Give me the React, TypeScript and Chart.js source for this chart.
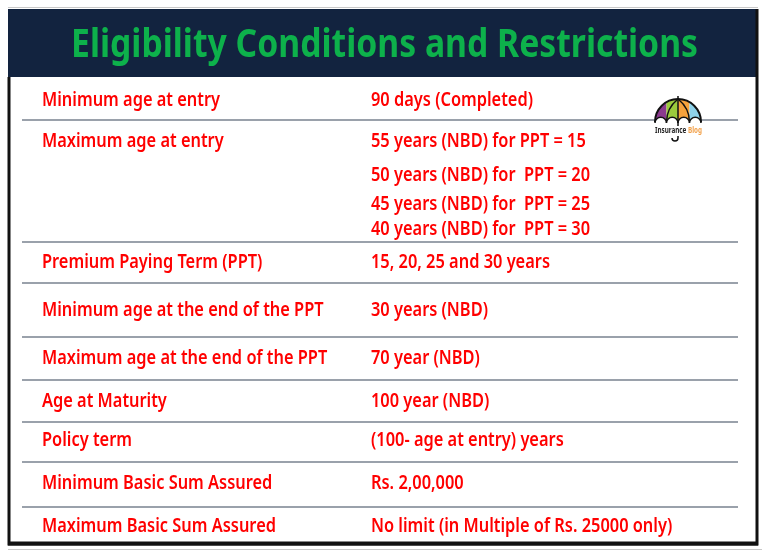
import { useEffect, useRef } from "react";
import { Chart, registerables } from "chart.js";
Chart.register(...registerables);

const title = "Eligibility Conditions and Restrictions";

const criteria = [
  "Minimum age at entry",
  "Maximum age at entry",
  "Premium Paying Term (PPT)",
  "Minimum age at the end of the PPT",
  "Maximum age at the end of the PPT",
  "Age at Maturity",
  "Policy term",
  "Minimum Basic Sum Assured",
  "Maximum Basic Sum Assured",
];

const conditions: string[][] = [
  ["90 days (Completed)"],
  [
    "55 years (NBD) for PPT = 15",
    "50 years (NBD) for  PPT = 20",
    "45 years (NBD) for  PPT = 25",
    "40 years (NBD) for  PPT = 30",
  ],
  ["15, 20, 25 and 30 years"],
  ["30 years (NBD)"],
  ["70 year (NBD)"],
  ["100 year (NBD)"],
  ["(100- age at entry) years"],
  ["Rs. 2,00,000"],
  ["No limit (in Multiple of Rs. 25000 only)"],
];

// layout (page pixel units on the hidden linear scales)
const LAYOUT = {
  rowBaselines: [
    [106],
    [146.5, 180.5, 209.5, 235],
    [268],
    [316],
    [364],
    [407],
    [446],
    [489],
    [531.5],
  ],
  separators: [120, 242, 283, 337, 380, 422, 462, 507],
  sepX0: 22,
  sepX1: 738,
  leftX: 42,
  rightX: 371,
  frame: { x0: 8, x1: 758, y0: 9, y1: 545, headerBottom: 77 },
};

const BODY_FONT = "'Noto Sans', 'DejaVu Sans', sans-serif";

const tablePlugin = {
  id: "tableDraw",
  beforeDraw(chart: any) {
    const ctx: CanvasRenderingContext2D = chart.ctx;
    const xs = chart.scales.x;
    const ys = chart.scales.y;
    const X = (v: number) => xs.getPixelForValue(v);
    const Y = (v: number) => ys.getPixelForValue(v);
    const f = LAYOUT.frame;
    ctx.save();
    ctx.fillStyle = "#ffffff";
    ctx.fillRect(0, 0, chart.width, chart.height);
    ctx.strokeStyle = "#c8c8c8";
    ctx.lineWidth = 1;
    ctx.beginPath();
    ctx.moveTo(X(f.x0), Y(7.5));
    ctx.lineTo(X(f.x1), Y(7.5));
    ctx.moveTo(X(f.x0), Y(549.5));
    ctx.lineTo(X(f.x1 + 4), Y(549.5));
    ctx.stroke();
    ctx.fillStyle = "#12233f";
    ctx.fillRect(X(f.x0), Y(f.y0), X(f.x1) - X(f.x0), Y(f.headerBottom) - Y(f.y0));
    ctx.strokeStyle = "#111111";
    ctx.lineWidth = 3;
    ctx.beginPath();
    ctx.moveTo(X(f.x0 + 1), Y(f.headerBottom));
    ctx.lineTo(X(f.x0 + 1), Y(f.y1 - 1));
    ctx.lineTo(X(f.x1 - 1), Y(f.y1 - 1));
    ctx.lineTo(X(f.x1 - 1), Y(f.y0));
    ctx.stroke();
    ctx.lineWidth = 4;
    ctx.beginPath();
    ctx.moveTo(X(f.x0), Y(f.y1 - 1.5));
    ctx.lineTo(X(f.x1), Y(f.y1 - 1.5));
    ctx.stroke();

    ctx.fillStyle = "#0db14b";
    ctx.font = `bold 39px ${BODY_FONT}`;
    ctx.textBaseline = "alphabetic";
    const tw = ctx.measureText(title).width;
    const tsx = 627 / tw;
    ctx.save();
    ctx.translate(X(71), Y(57));
    ctx.scale(tsx, 1);
    ctx.fillText(title, 0, 0);
    ctx.restore();

    ctx.strokeStyle = "#9aa1ab";
    ctx.lineWidth = 2;
    LAYOUT.separators.forEach((s) => {
      ctx.beginPath();
      ctx.moveTo(X(LAYOUT.sepX0), Y(s));
      ctx.lineTo(X(LAYOUT.sepX1), Y(s));
      ctx.stroke();
    });

    ctx.font = `600 19px ${BODY_FONT}`;
    ctx.fillStyle = "#ff0000";
    const sx = 178 / ctx.measureText(criteria[0]).width;
    const put = (t: string, x: number, y: number) => {
      ctx.save();
      ctx.translate(X(x), Y(y));
      ctx.scale(sx, 1);
      ctx.fillText(t, 0, 0);
      ctx.restore();
    };
    criteria.forEach((c, i) => {
      const bl = LAYOUT.rowBaselines[i];
      put(c, LAYOUT.leftX, bl[0]);
      conditions[i].forEach((v, j) => put(v, LAYOUT.rightX, bl[j]));
    });

    // logo (umbrella)
    const cx = X(678), cy = Y(122), r = 23;
    ctx.save();
    ctx.beginPath();
    ctx.arc(cx, cy, r, Math.PI, 2 * Math.PI);
    ctx.closePath();
    ctx.clip();
    const cols = ["#8b3a8e", "#9bcb3c", "#f6a23c", "#8ed2ea"];
    cols.forEach((c, k) => {
      ctx.fillStyle = c;
      ctx.fillRect(cx - r + (k * 2 * r) / 4, cy - r, (2 * r) / 4, r + 1);
    });
    ctx.restore();
    ctx.strokeStyle = "#111";
    ctx.lineWidth = 2;
    ctx.beginPath();
    ctx.arc(cx, cy, r, Math.PI, 2 * Math.PI);
    ctx.stroke();
    ctx.lineWidth = 1.5;
    for (let k = 1; k < 4; k++) {
      const px = cx - r + (k * 2 * r) / 4;
      ctx.beginPath();
      ctx.moveTo(cx, cy - r);
      ctx.quadraticCurveTo(px, cy - r * 0.6, px, cy);
      ctx.stroke();
    }
    ctx.fillStyle = "#ffffff";
    for (let k = 0; k < 4; k++) {
      const ax = cx - r + (k * 2 * r) / 4 + r / 4;
      ctx.beginPath();
      ctx.arc(ax, cy + 1, r / 4, Math.PI, 2 * Math.PI);
      ctx.fill();
      ctx.stroke();
    }
    ctx.beginPath();
    ctx.moveTo(cx, cy - r - 3);
    ctx.lineTo(cx, cy - r);
    ctx.moveTo(cx, cy);
    ctx.lineTo(cx, cy + 16);
    ctx.arc(cx - 3, cy + 16, 3, 0, Math.PI);
    ctx.stroke();
    ctx.fillStyle = "#ffffff";
    ctx.fillRect(cx - 24, cy + 4, 48, 10);
    ctx.font = `bold 8px ${BODY_FONT}`;
    ctx.fillStyle = "#222";
    const w1 = ctx.measureText("Insurance ").width;
    const w2 = ctx.measureText("Blog").width;
    const sx2 = 47 / (w1 + w2);
    ctx.save();
    ctx.translate(X(655), Y(133));
    ctx.scale(sx2, 1);
    ctx.fillText("Insurance ", 0, 0);
    ctx.fillStyle = "#f2a14a";
    ctx.fillText("Blog", w1, 0);
    ctx.restore();

    ctx.restore();
  },
};

export default function App() {
  const ref = useRef<HTMLCanvasElement | null>(null);
  useEffect(() => {
    if (!ref.current) return;
    const chart = new Chart(ref.current, {
      type: "scatter",
      data: { datasets: [{ data: [], pointRadius: 0 }] },
      options: {
        animation: false,
        responsive: false,
        maintainAspectRatio: false,
        layout: { padding: 0 },
        plugins: { legend: { display: false }, tooltip: { enabled: false } },
        scales: {
          x: { type: "linear", min: 0, max: 768, display: false },
          y: { type: "linear", min: 0, max: 551, reverse: true, display: false },
        },
      },
      plugins: [tablePlugin],
    });
    return () => chart.destroy();
  }, []);
  return (
    <div style={{ position: "fixed", left: 0, top: 0, width: 768, height: 551 }}>
      <canvas ref={ref} width={768} height={551} style={{ width: 768, height: 551 }} />
    </div>
  );
}
